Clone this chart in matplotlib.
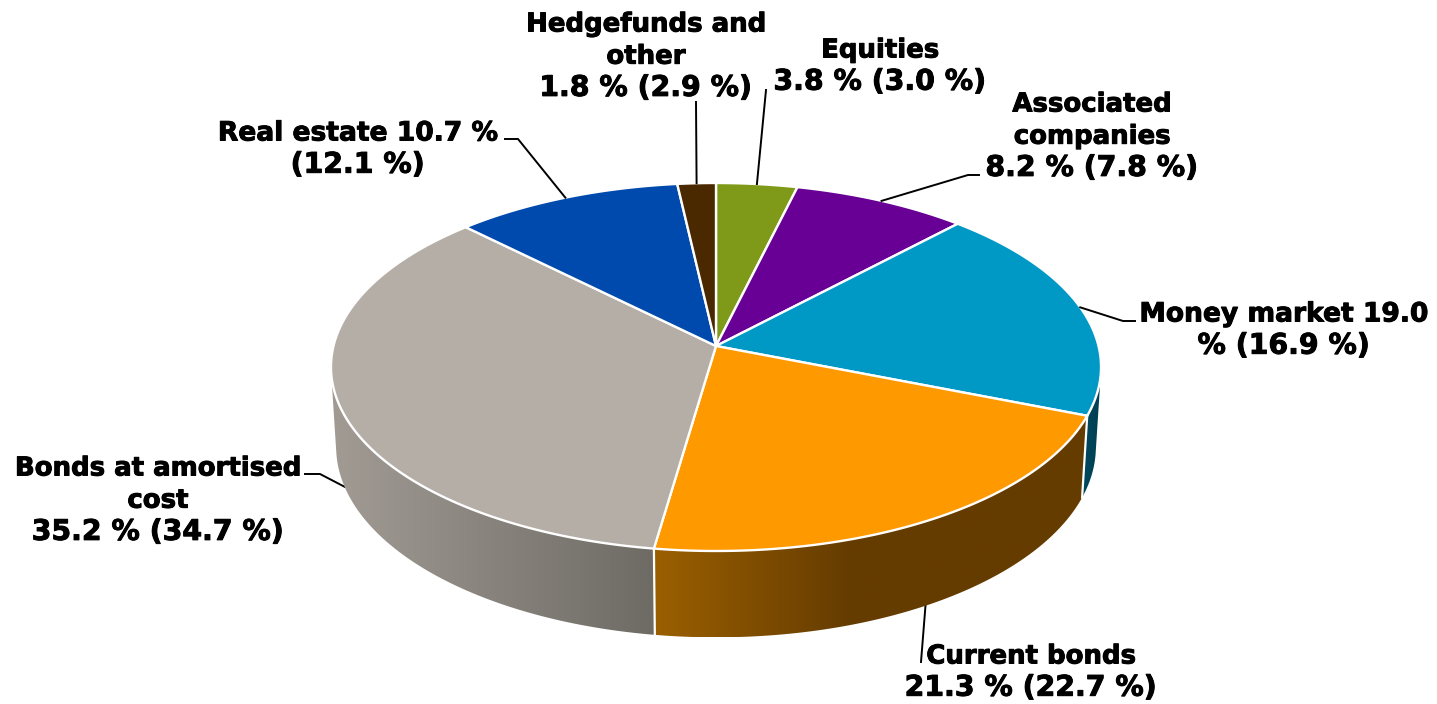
import numpy as np
import matplotlib
matplotlib.use("Agg")
import matplotlib.pyplot as plt
import matplotlib.patheffects as pe
from matplotlib.patches import Polygon
from matplotlib.colors import to_rgb

categories = ["Equities", "Associated companies", "Money market", "Current bonds",
              "Bonds at amortised cost", "Real estate", "Hedgefunds and other"]
shares = [3.8, 8.2, 19.0, 21.3, 35.2, 10.7, 1.8]
previous = [3.0, 7.8, 16.9, 22.7, 34.7, 12.1, 2.9]

top_colors = ["#7F9A18", "#690096", "#0099C6", "#FF9900", "#B5AEA7", "#004AAD", "#4A2800"]
# side shading: colour at the left and right ends of a horizontal ramp (screen x)
side_ramps = [
    ("#4C5C0E", "#4C5C0E", 0, 1),
    ("#3F005A", "#3F005A", 0, 1),
    ("#004A60", "#003F52", 1080, 1100),
    ("#9A5F00", "#653C00", 656, 850),
    ("#A09A93", "#6E6B65", 340, 654),
    ("#002C68", "#002C68", 0, 1),
    ("#2C1800", "#2C1800", 0, 1),
]

WORD_SIZE, MIXED_SIZE, NUMBER_SIZE = 18.7, 19.1, 20.4
# (centre x, first line y, lines of text with their font sizes)
label_layout = [
    (880, 48, [("Equities", WORD_SIZE), ("{s} % ({p} %)", NUMBER_SIZE)]),
    (1092, 102, [("Associated", WORD_SIZE), ("companies", WORD_SIZE), ("{s} % ({p} %)", NUMBER_SIZE)]),
    (1284, 312, [("Money market {s}", MIXED_SIZE), ("% ({p} %)", NUMBER_SIZE)]),
    (1031, 654, [("Current bonds", WORD_SIZE), ("{s} % ({p} %)", NUMBER_SIZE)]),
    (158, 466, [("Bonds at amortised", WORD_SIZE), ("cost", WORD_SIZE), ("{s} % ({p} %)", NUMBER_SIZE)]),
    (358, 131, [("Real estate {s} %", MIXED_SIZE), ("({p} %)", NUMBER_SIZE)]),
    (646, 22, [("Hedgefunds and", WORD_SIZE), ("other", WORD_SIZE), ("{s} % ({p} %)", NUMBER_SIZE)]),
]
# leader bends in screen position, and whether the leader leaves the lower rim
leader_paths = [
    ([(766, 90)], False),
    ([(968, 175), (979, 175)], False),
    ([(1123, 321), (1135, 321)], False),
    ([(921, 662)], True),
    ([(320, 474), (305, 474)], True),
    ([(518, 139), (505, 139)], False),
    ([(696, 102)], False),
]

# perspective camera of the disc
CX, CY = 716.0, 346.0
SCALE_X, SCALE_Y = 382.5, 181.6
TILT = 0.1141
THICK_W = 0.0134      # perspective change across the thickness
VANISH = -6000.0      # vertical vanishing point below the disc


def project(theta_deg, lower=False):
    t = np.radians(theta_deg)
    x, y = np.sin(t), np.cos(t)
    dz = THICK_W if lower else 0.0
    w = 1 + TILT * y + dz
    return CX + SCALE_X * x / w, CY - (SCALE_Y * y + VANISH * dz) / w


def faces_viewer(theta_deg):
    """True where the outer wall at this angle turns towards the camera."""
    ux0, uy0 = project(theta_deg - 0.05)
    ux1, uy1 = project(theta_deg + 0.05)
    ux, uy = project(theta_deg)
    lx, ly = project(theta_deg, True)
    return (ux1 - ux0) * (ly - uy) - (uy1 - uy0) * (lx - ux) < 0


fig = plt.figure(figsize=(14.37, 7.04), dpi=100)
ax = fig.add_axes([0, 0, 1, 1])
ax.axis("off")

edges = np.concatenate([[0], np.cumsum(shares)]) / sum(shares) * 360.0

# visible outer wall of every slice: a horizontal colour ramp clipped to its outline
for i in range(len(shares)):
    a = np.linspace(edges[i], edges[i + 1], 600)
    a = a[[faces_viewer(v) for v in a]]
    if len(a) < 2:
        continue
    outline = [project(v) for v in a] + [project(v, True) for v in a[::-1]]
    xs = np.array([p[0] for p in outline])
    ys = np.array([p[1] for p in outline])
    left, right, x0, x1 = side_ramps[i]
    c0, c1 = np.array(to_rgb(left)), np.array(to_rgb(right))
    grid = np.linspace(xs.min(), xs.max(), 600)
    f = np.clip((grid - x0) / (x1 - x0), 0, 1)[None, :, None]
    wall = Polygon(outline, closed=True, transform=ax.transData, facecolor="none",
                   edgecolor="none")
    ax.add_patch(wall)
    img = ax.imshow(c0 + (c1 - c0) * f, extent=[xs.min(), xs.max(), ys.max(), ys.min()],
                    aspect="auto", interpolation="bilinear", zorder=2)
    img.set_clip_path(wall)

ax.set_xlim(0, 1437)
ax.set_ylim(704, 0)

# white seams on the wall at the visible slice boundaries
for i in (3, 4):
    ux, uy = project(edges[i])
    lx, ly = project(edges[i], True)
    ax.plot([ux, lx], [uy, ly], color="white", lw=1.6, zorder=3)

# top face
for i in range(len(shares)):
    a = np.linspace(edges[i], edges[i + 1], 200)
    rim = [project(v) for v in a]
    ax.add_patch(Polygon([(CX, CY)] + rim, closed=True, facecolor=top_colors[i],
                         edgecolor="white", linewidth=1.7, joinstyle="round", zorder=4))

# leader lines, starting on the rim at the middle of each slice
for i, (bends, lower) in enumerate(leader_paths):
    start = project((edges[i] + edges[i + 1]) / 2, lower)
    pts = [start] + bends
    ax.plot([p[0] for p in pts], [p[1] for p in pts], color="black", lw=1.4,
            solid_joinstyle="miter", zorder=1 if lower else 5)

# labels
for i, (x, y, lines) in enumerate(label_layout):
    for k, (line, size) in enumerate(lines):
        t = ax.text(x, y + 9.5 + k * 32.2,
                    line.format(s=f"{shares[i]:.1f}", p=f"{previous[i]:.1f}"),
                    ha="center", va="baseline", fontsize=size, fontweight="bold",
                    family="DejaVu Sans", color="black", zorder=6)
        t.set_path_effects([pe.withStroke(linewidth=0.7, foreground="black")])

fig.savefig("out.png", dpi=100, facecolor="white")
